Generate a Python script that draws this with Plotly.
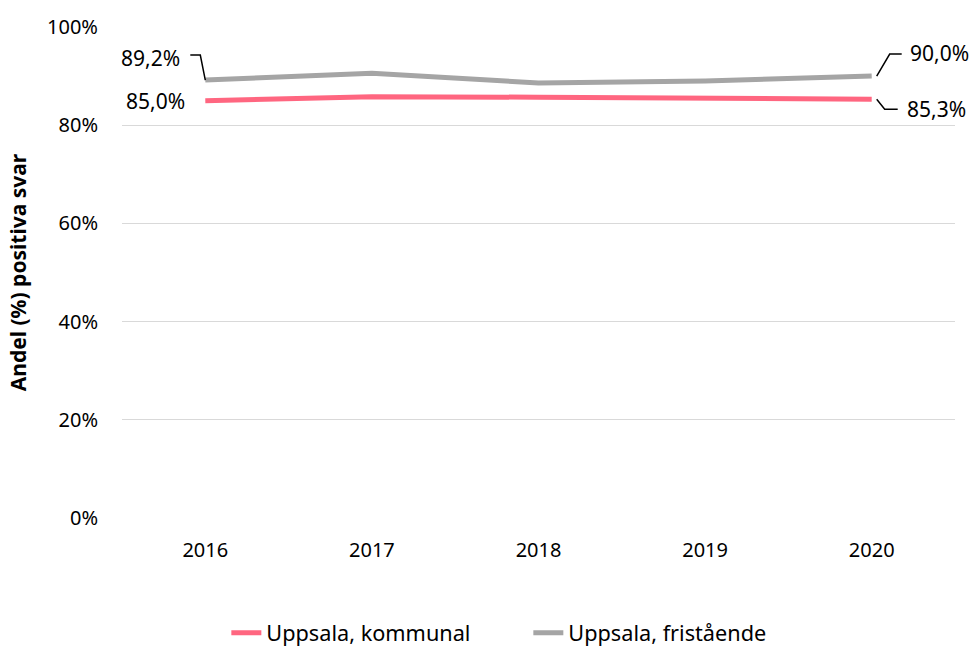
import plotly.graph_objects as go

years = ["2016", "2017", "2018", "2019", "2020"]
kommunal = [85.0, 85.8, 85.7, 85.5, 85.3]
fristaende = [89.2, 90.6, 88.6, 89.0, 90.0]
series_names = ["Uppsala, kommunal", "Uppsala, fristående"]
y_ticks = [0, 20, 40, 60, 80, 100]
y_tick_labels = ["0%", "20%", "40%", "60%", "80%", "100%"]

PINK = "#FF6680"
GRAY = "#A5A5A5"
FONT = "Noto Sans"
FS = 20

def fmt(v):
    return f"{v:.1f}%".replace(".", ",")

fig = go.Figure()
fig.add_trace(go.Scatter(x=years, y=kommunal, mode="lines", name=series_names[0],
                         line=dict(color=PINK, width=5), hoverinfo="skip"))
fig.add_trace(go.Scatter(x=years, y=fristaende, mode="lines", name=series_names[1],
                         line=dict(color=GRAY, width=5), hoverinfo="skip"))

first, last = 0, len(years) - 1
ann_font = dict(family=FONT, size=21, color="#000000")
annotations = [
    dict(x=first, y=fristaende[first], text=fmt(fristaende[first]), showarrow=False,
         xanchor="right", yanchor="middle", xshift=-23, yshift=22, font=ann_font),
    dict(x=first, y=kommunal[first], text=fmt(kommunal[first]), showarrow=False,
         xanchor="right", yanchor="middle", xshift=-18, yshift=0, font=ann_font),
    dict(x=last, y=fristaende[last], text=fmt(fristaende[last]), showarrow=False,
         xanchor="left", yanchor="middle", xshift=36, yshift=23, font=ann_font),
    dict(x=last, y=kommunal[last], text=fmt(kommunal[last]), showarrow=False,
         xanchor="left", yanchor="middle", xshift=33, yshift=-10, font=ann_font),
]

leader = dict(color="#000000", width=1.5)
shapes = [
    dict(type="path", xref="x", yref="y", xsizemode="pixel", ysizemode="pixel",
         xanchor=first, yanchor=fristaende[first], path="M 0 0 L -5 25 L -15 25", line=leader),
    dict(type="path", xref="x", yref="y", xsizemode="pixel", ysizemode="pixel",
         xanchor=last, yanchor=fristaende[last], path="M 5 0 L 18 22 L 30 22", line=leader),
    dict(type="path", xref="x", yref="y", xsizemode="pixel", ysizemode="pixel",
         xanchor=last, yanchor=kommunal[last], path="M 5 0 L 13 -10 L 26 -10", line=leader),
]

fig.update_layout(
    width=973, height=646,
    margin=dict(l=122, r=18, t=27, b=128, autoexpand=False),
    paper_bgcolor="white", plot_bgcolor="white",
    font=dict(family=FONT, size=FS, color="#000000"),
    showlegend=True,
    legend=dict(orientation="h", xref="container", yref="container", x=0.543, y=0.02,
                xanchor="center", yanchor="middle", font=dict(size=21.7),
                entrywidth=257, tracegroupgap=0),
    annotations=annotations,
    shapes=shapes,
    xaxis=dict(type="category", range=[-0.5, 4.5], showgrid=False, zeroline=False,
               showline=False, ticks="", ticklabelstandoff=18, tickfont=dict(size=FS)),
    yaxis=dict(range=[0, 100], tickvals=y_ticks, ticktext=y_tick_labels, showgrid=True,
               gridcolor="#D9D9D9", gridwidth=1.3, zeroline=False, showline=False, ticks="",
               ticklabelstandoff=23, tickfont=dict(size=FS),
               title=dict(text="<b>Andel (%) positiva svar</b>", standoff=14,
                          font=dict(size=21))),
)

fig.write_html("out.html", config={"displayModeBar": False},
               post_script="document.body.style.margin='0';")
